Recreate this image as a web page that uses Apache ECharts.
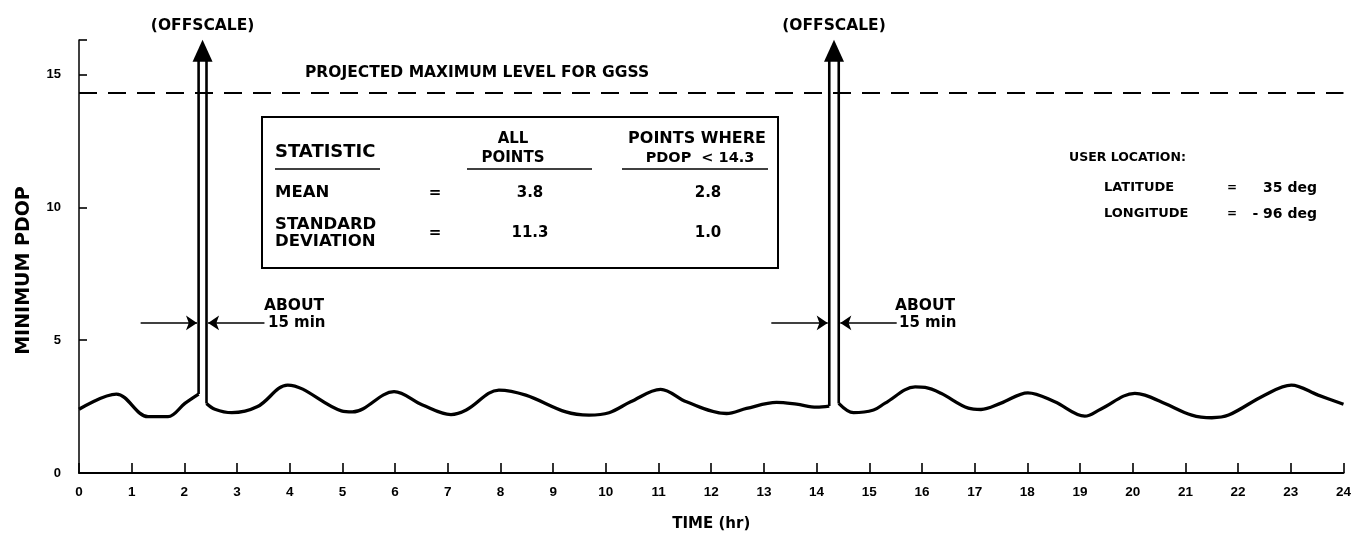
<!DOCTYPE html>
<html>
<head>
<meta charset="utf-8">
<title>Minimum PDOP</title>
<script src="https://cdn.jsdelivr.net/npm/echarts@6/dist/echarts.min.js"></script>
<style>
	html, body { margin: 0; padding: 0; background: #fff; }
	#main { width: 1354px; height: 542px; }
</style>
</head>
<body>
<div id="main"></div>
<script>
	// minimum PDOP over the day, split at the two offscale spikes
	var trace1Hr   = [0, 0.71, 1.31, 1.69, 2.01, 2.27];
	var trace1Pdop = [2.4, 2.97, 2.12, 2.12, 2.62, 2.97];

	var trace2Hr   = [2.42, 2.58, 2.9, 3.39, 3.96, 4.98, 5.19, 5.98, 6.52, 7.06, 7.35, 7.97, 8.48, 9.24,
	                  9.68, 10.06, 10.47, 11.04, 11.53, 12.29, 12.67, 13.24, 13.62, 14.0, 14.24];
	var trace2Pdop = [2.62, 2.4, 2.27, 2.5, 3.31, 2.34, 2.3, 3.06, 2.56, 2.2, 2.37, 3.12, 2.93, 2.3,
	                  2.18, 2.27, 2.68, 3.15, 2.68, 2.24, 2.43, 2.66, 2.59, 2.48, 2.52];

	var trace3Hr   = [14.42, 14.7, 15.08, 15.3, 15.87, 16.06, 16.36, 16.88, 17.12, 17.5, 18.01, 18.52, 19.09,
	                  19.39, 20.04, 20.23, 20.61, 21.12, 21.5, 21.82, 22.5, 23.01, 23.52, 24];
	var trace3Pdop = [2.62, 2.27, 2.37, 2.63, 3.24, 3.22, 3.0, 2.44, 2.39, 2.63, 3.02, 2.68, 2.14,
	                  2.4, 3.0, 2.93, 2.62, 2.18, 2.08, 2.18, 2.93, 3.31, 2.93, 2.59];

	// spikes go offscale (arrow drawn at the top of the axis)
	var spikeLeftHr  = [2.27, 14.24];
	var spikeRightHr = [2.42, 14.42];
	var spikeTop = 15.6;
	var arrowPdop = 15.9;

	var ggssLevel = 14.3;
	var widthArrowPdop = 5.65;   // level of the "about 15 min" arrows
	var widthArrowHr = 1.1;

	var yTicks = [0, 5, 10, 15];

	var wide = 'DejaVu Sans';
	var narrow = 'Liberation Sans';

	function pairs(xs, ys) {
		return xs.map(function (x, i) { return [x, ys[i]]; });
	}

	var traces = [pairs(trace1Hr, trace1Pdop), pairs(trace2Hr, trace2Pdop), pairs(trace3Hr, trace3Pdop)];

	var series = traces.map(function (d, i) {
		var s = {
			type: 'line',
			data: d,
			smooth: 0.35,
			showSymbol: false,
			silent: true,
			lineStyle: { color: '#000', width: 3.3 }
		};
		if (i === 0) {
			s.markLine = {
				silent: true,
				symbol: 'none',
				label: { show: false },
				lineStyle: { color: '#000', width: 2, type: [18, 11] },
				data: [{ yAxis: ggssLevel }]
			};
		}
		return s;
	});

	spikeLeftHr.forEach(function (L, i) {
		var R = spikeRightHr[i];
		var before = traces[i][traces[i].length - 1][1];
		var after = traces[i + 1][0][1];
		series.push({
			type: 'line',
			data: [[L, before], [L, spikeTop], [R, spikeTop], [R, after]],
			showSymbol: false,
			silent: true,
			lineStyle: { color: '#000', width: 2.6 },
			markPoint: {
				silent: true,
				symbol: 'triangle',
				symbolSize: [20, 22],
				itemStyle: { color: '#000' },
				label: {
					show: true,
					position: 'top',
					distance: 6,
					formatter: '(OFFSCALE)',
					color: '#000',
					fontFamily: wide,
					fontWeight: 'bold',
					fontSize: 15.5
				},
				data: [{ coord: [(L + R) / 2, arrowPdop] }]
			},
			markLine: {
				silent: true,
				symbol: ['none', 'arrow'],
				symbolSize: 11,
				label: { show: false },
				lineStyle: { color: '#000', width: 1.6, type: 'solid' },
				data: [
					[{ coord: [L - widthArrowHr, widthArrowPdop] }, { coord: [L - 0.03, widthArrowPdop] }],
					[{ coord: [R + widthArrowHr, widthArrowPdop] }, { coord: [R + 0.03, widthArrowPdop] }]
				]
			}
		});
	});

	function txt(x, y, text, size, align, family) {
		return {
			type: 'text',
			x: x,
			y: y,
			silent: true,
			style: {
				text: text,
				fill: '#000',
				font: 'bold ' + size + 'px "' + (family || wide) + '"',
				textAlign: align || 'left',
				textVerticalAlign: 'middle'
			}
		};
	}
	function hline(x1, x2, y, w) {
		return {
			type: 'line',
			silent: true,
			shape: { x1: x1, y1: y, x2: x2, y2: y },
			style: { stroke: '#000', lineWidth: w || 1.5 }
		};
	}

	var graphics = [
		txt(305, 73, 'PROJECTED MAXIMUM LEVEL FOR GGSS', 15.5),

		// statistics table
		{
			type: 'rect',
			silent: true,
			shape: { x: 262, y: 117, width: 516, height: 151 },
			style: { fill: 'none', stroke: '#000', lineWidth: 2 }
		},
		txt(275, 152, 'STATISTIC', 18),
		hline(275, 380, 169),
		txt(513, 139, 'ALL', 15, 'center'),
		txt(513, 158, 'POINTS', 15, 'center'),
		hline(467, 592, 169),
		txt(697, 139, 'POINTS WHERE', 16, 'center'),
		txt(700, 158, 'PDOP  < 14.3', 14.5, 'center'),
		hline(622, 768, 169),
		txt(275, 193, 'MEAN', 16.5),
		txt(435, 193, '=', 15, 'center'),
		txt(530, 193, '3.8', 15, 'center'),
		txt(708, 193, '2.8', 15, 'center'),
		txt(275, 225, 'STANDARD', 16.5),
		txt(275, 242, 'DEVIATION', 16.5),
		txt(435, 233, '=', 15, 'center'),
		txt(530, 233, '11.3', 15, 'center'),
		txt(708, 233, '1.0', 15, 'center'),

		// user location
		txt(1069, 158, 'USER LOCATION:', 12.5),
		txt(1104, 188, 'LATITUDE', 13),
		txt(1232, 188, '=', 12, 'center'),
		txt(1317, 188, '35 deg', 14, 'right'),
		txt(1104, 214, 'LONGITUDE', 13),
		txt(1232, 214, '=', 12, 'center'),
		txt(1317, 214, '- 96 deg', 14, 'right'),

		// width of the spikes
		txt(264, 306, 'ABOUT', 15.5),
		txt(268, 323, '15 min', 15),
		txt(895, 306, 'ABOUT', 15.5),
		txt(899, 323, '15 min', 15)
	];

	var chart = echarts.init(document.getElementById('main'));
	chart.setOption({
		backgroundColor: '#fff',
		animation: false,
		grid: { left: 79, right: 7, top: 40, bottom: 69, containLabel: false },
		xAxis: {
			type: 'value',
			min: 0,
			max: 24,
			interval: 1,
			name: 'TIME (hr)',
			nameLocation: 'middle',
			nameGap: 44,
			nameTextStyle: { color: '#000', fontFamily: wide, fontWeight: 'bold', fontSize: 15 },
			axisLine: { lineStyle: { color: '#000', width: 2 } },
			axisTick: { inside: true, length: 10, lineStyle: { color: '#000', width: 1.6 } },
			axisLabel: { color: '#000', fontFamily: narrow, fontWeight: 'bold', fontSize: 13.5, margin: 12 },
			splitLine: { show: false }
		},
		yAxis: {
			type: 'value',
			min: 0,
			max: 16.3,
			interval: 5,
			name: 'MINIMUM PDOP',
			nameLocation: 'middle',
			nameRotate: 90,
			nameGap: 45,
			nameTextStyle: {
				color: '#000', fontFamily: wide, fontWeight: 'bold', fontSize: 19,
				padding: [0, 28, 0, 0]
			},
			axisLine: { lineStyle: { color: '#000', width: 1.5 } },
			axisTick: { inside: true, length: 8, lineStyle: { color: '#000', width: 1.6 } },
			axisLabel: {
				color: '#000', fontFamily: narrow, fontWeight: 'bold', fontSize: 13, margin: 18,
				formatter: function (v) { return yTicks.indexOf(v) >= 0 ? String(v) : ''; }
			},
			splitLine: { show: false }
		},
		graphic: graphics,
		series: series
	});
</script>
</body>
</html>
